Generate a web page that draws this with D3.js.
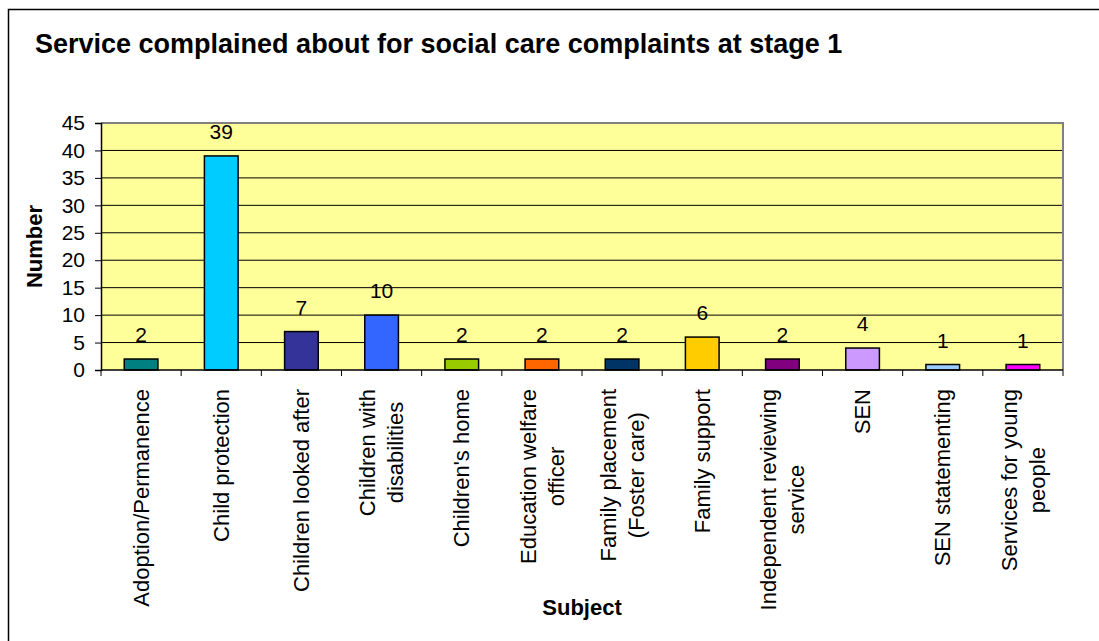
<!DOCTYPE html>
<html>
<head>
<meta charset="utf-8">
<script src="https://cdn.jsdelivr.net/npm/d3@7"></script>
<style>
  body { margin: 0; background: #fff; }
  svg { display: block; font-family: "Liberation Sans", Arial, sans-serif; }
</style>
</head>
<body>
<svg id="chart"></svg>
<script>
// chart data
const categories = [
  ["Adoption/Permanence"],
  ["Child protection"],
  ["Children looked after"],
  ["Children with", "disabilities"],
  ["Children's home"],
  ["Education welfare", "officer"],
  ["Family placement", "(Foster care)"],
  ["Family support"],
  ["Independent reviewing", "service"],
  ["SEN"],
  ["SEN statementing"],
  ["Services for young", "people"]
];
const values = [2, 39, 7, 10, 2, 2, 2, 6, 2, 4, 1, 1];
const barColors = ["#008080", "#00CCFF", "#333399", "#3366FF", "#99CC00", "#FF6600",
  "#003366", "#FFCC00", "#800080", "#CC99FF", "#99CCFF", "#FF00FF"];
const yTicks = [0, 5, 10, 15, 20, 25, 30, 35, 40, 45];

const W = 1099, H = 641;
const margin = { top: 123, right: 36, bottom: 271, left: 101 };
const width = W - margin.left - margin.right,
  height = H - margin.top - margin.bottom;

const svg = d3.select("#chart").attr("width", W).attr("height", H);

// outer chart frame (only left and top edges are visible)
svg.append("rect")
  .attr("x", 8.5).attr("y", 9.5)
  .attr("width", 1200).attr("height", 800)
  .attr("fill", "none").attr("stroke", "#000").attr("stroke-width", 1.5);

svg.append("text")
  .attr("x", 35).attr("y", 53)
  .style("font-weight", "bold").style("font-size", "27px")
  .text("Service complained about for social care complaints at stage 1");

const g = svg.append("g")
  .attr("transform", "translate(" + margin.left + "," + margin.top + ")");

const x = d3.scaleBand()
  .domain(d3.range(categories.length))
  .range([0, width])
  .paddingInner(0.58).paddingOuter(0.29);

const y = d3.scaleLinear().domain([0, 45]).range([height, 0]);

// plot area
g.append("rect")
  .attr("width", width).attr("height", height)
  .attr("fill", "#FFFF99");

// gridlines
g.selectAll(".grid")
  .data(yTicks.slice(1))
  .join("line")
  .attr("x1", 0).attr("x2", width)
  .attr("y1", d => y(d)).attr("y2", d => y(d))
  .attr("stroke", "#000").attr("stroke-width", 1);

// plot border top/right in grey
g.append("path")
  .attr("d", "M0,0H" + width + "V" + height)
  .attr("fill", "none").attr("stroke", "#808080").attr("stroke-width", 2);

// bars
g.selectAll(".bar")
  .data(values)
  .join("rect")
  .attr("x", (d, i) => x(i))
  .attr("y", d => y(d))
  .attr("width", x.bandwidth())
  .attr("height", d => height - y(d))
  .attr("fill", (d, i) => barColors[i])
  .attr("stroke", "#000").attr("stroke-width", 1.5);

// value labels
g.selectAll(".val")
  .data(values)
  .join("text")
  .attr("x", (d, i) => x(i) + x.bandwidth() / 2)
  .attr("y", d => y(d) - 17)
  .attr("text-anchor", "middle")
  .style("font-size", "21px")
  .text(d => d);

// y axis
const yAxis = g.append("g")
  .call(d3.axisLeft(y).tickValues(yTicks).tickSize(6).tickPadding(10));
yAxis.select(".domain").attr("stroke", "#000").attr("stroke-width", 1.5);
yAxis.selectAll("text").style("font-size", "21px").attr("fill", "#000")
  .attr("font-family", null);

// x axis: ticks at category boundaries
const step = width / categories.length;
const xAxis = g.append("g").attr("transform", "translate(0," + height + ")");
xAxis.append("line")
  .attr("x1", 0).attr("x2", width)
  .attr("stroke", "#000").attr("stroke-width", 1.5);
xAxis.selectAll(".xt")
  .data(d3.range(categories.length + 1))
  .join("line")
  .attr("x1", d => d * step).attr("x2", d => d * step)
  .attr("y1", 0).attr("y2", 6)
  .attr("stroke", "#000").attr("stroke-width", 1);

// rotated category labels, centered block with top at a fixed distance below axis
const lh = 28;
const catG = xAxis.selectAll(".cat")
  .data(categories)
  .join("g")
  .attr("transform", (d, i) => "translate(" + (x(i) + x.bandwidth() / 2) + ",19)");
catG.each(function (lines) {
  const sel = d3.select(this);
  const texts = lines.map(t => sel.append("text")
    .attr("text-anchor", "middle")
    .style("font-size", "22px")
    .text(t));
  const maxLen = d3.max(texts, t => t.node().getComputedTextLength());
  texts.forEach((t, k) => {
    const off = (k - (lines.length - 1) / 2) * lh;
    t.attr("transform", "translate(" + off + "," + (maxLen / 2) + ") rotate(-90)")
      .attr("dy", "0.35em");
  });
});

// axis titles
svg.append("text")
  .attr("transform", "translate(42," + (margin.top + height / 2) + ") rotate(-90)")
  .attr("text-anchor", "middle")
  .style("font-weight", "bold").style("font-size", "22px")
  .text("Number");

svg.append("text")
  .attr("x", margin.left + width / 2).attr("y", 615)
  .attr("text-anchor", "middle")
  .style("font-weight", "bold").style("font-size", "22px")
  .text("Subject");
</script>
</body>
</html>
